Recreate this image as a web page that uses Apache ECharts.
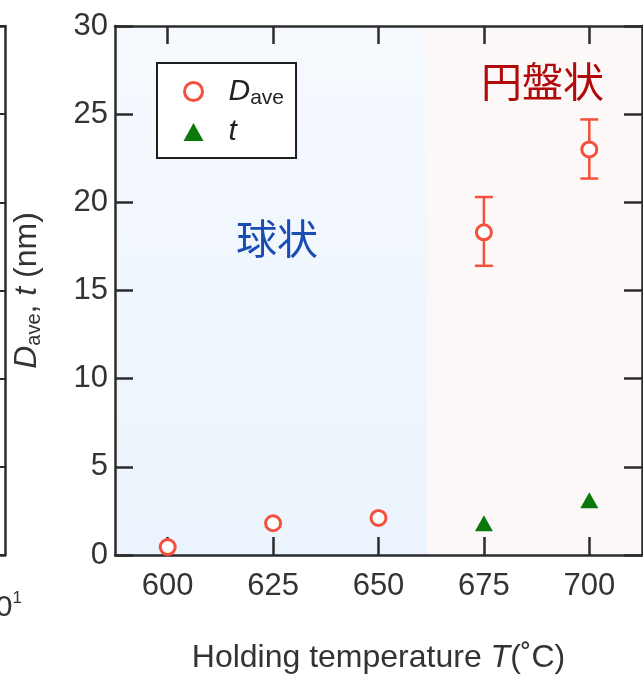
<!DOCTYPE html>
<html><head><meta charset="utf-8">
<script src="https://cdn.jsdelivr.net/npm/echarts@6/dist/echarts.min.js"></script>
<style>html,body{margin:0;padding:0;background:#fff}#c{width:643px;height:675px}</style>
</head><body><div id="c"></div>
<script>
// ---- data ----
const dTemps = [600, 625, 650, 675, 700];
const dAve = [0.45, 1.8, 2.1, 18.3, 23.0];
const errTemps = [675, 700];
const errLow = [16.4, 21.35];
const errHigh = [20.3, 24.7];
const tTemps = [675, 700];
const tVals = [1.8, 3.1];
const xTicks = [600, 625, 650, 675, 700];
const regionSphere = [587.5, 661.5];
const regionDisk = [661.5, 712.5];

const FONT = 'Liberation Sans, Arial, sans-serif';
const RED = '#f4503c';
const GREEN = '#0b780b';
const AX = '#2b2b2b';

const chart = echarts.init(document.getElementById('c'), null, {renderer: 'canvas'});

const tickStyle = {show: true, inside: true, length: 18, lineStyle: {color: AX, width: 2.5}};
const lineStyle = {show: true, onZero: false, lineStyle: {color: AX, width: 2.5}};

chart.setOption({
  animation: false,
  backgroundColor: '#fff',
  grid: [
    {left: 115, right: 1, top: 26, bottom: 120, containLabel: false, outerBoundsMode: 'none'},
    {left: 0, width: 5, top: 26, bottom: 120, containLabel: false, outerBoundsMode: 'none'}
  ],
  legend: {
    left: 157, top: 63, orient: 'vertical', z: 20,
    borderColor: '#1e1e1e', borderWidth: 2, backgroundColor: '#fff',
    padding: [11, 12, 11, 26], itemGap: 8, itemWidth: 20, itemHeight: 18,
    data: [
      {name: 'Dave', icon: 'circle', itemStyle: {color: '#fff', borderColor: RED, borderWidth: 3}},
      {name: 't', icon: 'triangle', itemStyle: {color: GREEN}}
    ],
    formatter: function (n) { return n === 'Dave' ? '{i|D}{s|ave}' : '{i|t}'; },
    textStyle: {
      fontFamily: FONT, color: '#222',
      rich: {
        i: {fontSize: 30, fontStyle: 'italic', fontFamily: FONT, color: '#222', lineHeight: 36, padding: [0, 0, 0, 20]},
        s: {fontSize: 21, fontFamily: FONT, color: '#222', lineHeight: 36, padding: [14, 0, 0, 0]}
      }
    }
  },
  xAxis: [
    {
      type: 'value', gridIndex: 0, position: 'bottom', min: 587.5, max: 712.5, z: 3,
      axisLine: lineStyle, splitLine: {show: false},
      axisTick: Object.assign({}, tickStyle, {customValues: xTicks}),
      axisLabel: {customValues: xTicks, fontSize: 31, fontFamily: FONT, color: '#333', margin: 16},
      name: 'Holding temperature {i|T}(˚C)', nameLocation: 'middle', nameGap: 87,
      nameTextStyle: {fontSize: 32, fontFamily: FONT, color: '#333',
        rich: {i: {fontSize: 32, fontFamily: FONT, fontStyle: 'italic', color: '#333'}}}
    },
    {
      type: 'value', gridIndex: 0, position: 'top', min: 587.5, max: 712.5, z: 3,
      axisLine: lineStyle, splitLine: {show: false},
      axisTick: Object.assign({}, tickStyle, {customValues: xTicks}),
      axisLabel: {show: false}
    },
    {type: 'value', gridIndex: 1, position: 'top', min: 0, max: 1,
      axisLine: lineStyle, axisTick: {show: false}, axisLabel: {show: false}, splitLine: {show: false}},
    {type: 'value', gridIndex: 1, position: 'bottom', min: 0, max: 1,
      axisLine: lineStyle, axisTick: {show: false}, axisLabel: {show: false}, splitLine: {show: false}}
  ],
  yAxis: [
    {
      type: 'value', gridIndex: 0, position: 'left', min: 0, max: 30, interval: 5, z: 3,
      axisLine: lineStyle, axisTick: tickStyle, splitLine: {show: false},
      axisLabel: {fontSize: 31, fontFamily: FONT, color: '#333', margin: 7},
      name: '{i|D}{s|ave}, {i|t} (nm)', nameLocation: 'middle', nameRotate: 90, nameGap: 70,
      nameTextStyle: {fontSize: 32, fontFamily: FONT, color: '#333',
        rich: {
          i: {fontSize: 32, fontStyle: 'italic', fontFamily: FONT, color: '#333', lineHeight: 36},
          s: {fontSize: 20, fontFamily: FONT, color: '#333', lineHeight: 36, padding: [14, 0, 0, 0]}
        }}
    },
    {
      type: 'value', gridIndex: 0, position: 'right', min: 0, max: 30, interval: 5, z: 3,
      axisLine: lineStyle, axisTick: tickStyle, splitLine: {show: false}, axisLabel: {show: false}
    },
    {
      type: 'value', gridIndex: 1, position: 'right', min: 0, max: 30, interval: 5,
      axisLine: lineStyle, axisTick: {show: true, inside: true, length: 6, lineStyle: {color: AX, width: 2}},
      splitLine: {show: false}, axisLabel: {show: false}
    }
  ],
  graphic: [
    {type: 'text', left: 236, top: 218, z: 100, style: {text: '球状', fontSize: 41, fontFamily: 'Noto Sans CJK JP', fill: '#1a4db4'}},
    {type: 'text', left: 481, top: 61, z: 100, style: {text: '円盤状', fontSize: 41, fontFamily: 'Noto Sans CJK JP', fill: '#b00a0a'}},
    {type: 'text', right: 621, top: 590, z: 100, style: {text: '{b|10}{s|1}', rich: {
      b: {fontSize: 30, fontFamily: FONT, fill: '#333', lineHeight: 34},
      s: {fontSize: 17, fontFamily: FONT, fill: '#333', lineHeight: 34, padding: [0, 0, 18, 0]}}}}
  ],
  series: [
    {
      type: 'scatter', name: 'bg', xAxisIndex: 0, yAxisIndex: 0, data: [], silent: true, z: 1,
      markArea: {
        silent: true,
        data: [
          [{xAxis: regionSphere[0], yAxis: 0, itemStyle: {color: new echarts.graphic.LinearGradient(0, 0, 0, 1, [{offset: 0, color: '#f6faff'}, {offset: 1, color: '#ebf3fc'}])}},
           {xAxis: regionSphere[1], yAxis: 30}],
          [{xAxis: regionDisk[0], yAxis: 0, itemStyle: {color: '#fdf8f8'}},
           {xAxis: regionDisk[1], yAxis: 30}]
        ]
      }
    },
    {
      type: 'custom', name: 'err', xAxisIndex: 0, yAxisIndex: 0, z: 4,
      data: errTemps.map((x, i) => [x, errLow[i], errHigh[i]]),
      renderItem: function (params, api) {
        const lo = api.coord([api.value(0), api.value(1)]);
        const hi = api.coord([api.value(0), api.value(2)]);
        const w = 9;
        const st = {stroke: RED, lineWidth: 2.5};
        return {type: 'group', children: [
          {type: 'line', shape: {x1: lo[0], y1: lo[1], x2: hi[0], y2: hi[1]}, style: st},
          {type: 'line', shape: {x1: lo[0] - w, y1: lo[1], x2: lo[0] + w, y2: lo[1]}, style: st},
          {type: 'line', shape: {x1: hi[0] - w, y1: hi[1], x2: hi[0] + w, y2: hi[1]}, style: st}
        ]};
      }
    },
    {
      type: 'scatter', name: 't', xAxisIndex: 0, yAxisIndex: 0, z: 5,
      symbol: 'triangle', symbolSize: [18, 16],
      itemStyle: {color: GREEN, opacity: 1},
      data: tTemps.map((x, i) => [x, tVals[i]])
    },
    {
      type: 'scatter', name: 'Dave', xAxisIndex: 0, yAxisIndex: 0, z: 6,
      symbol: 'circle', symbolSize: 15,
      itemStyle: {color: '#fff', borderColor: RED, borderWidth: 3, opacity: 1},
      data: dTemps.map((x, i) => [x, dAve[i]])
    }
  ]
});
</script>
</body></html>
